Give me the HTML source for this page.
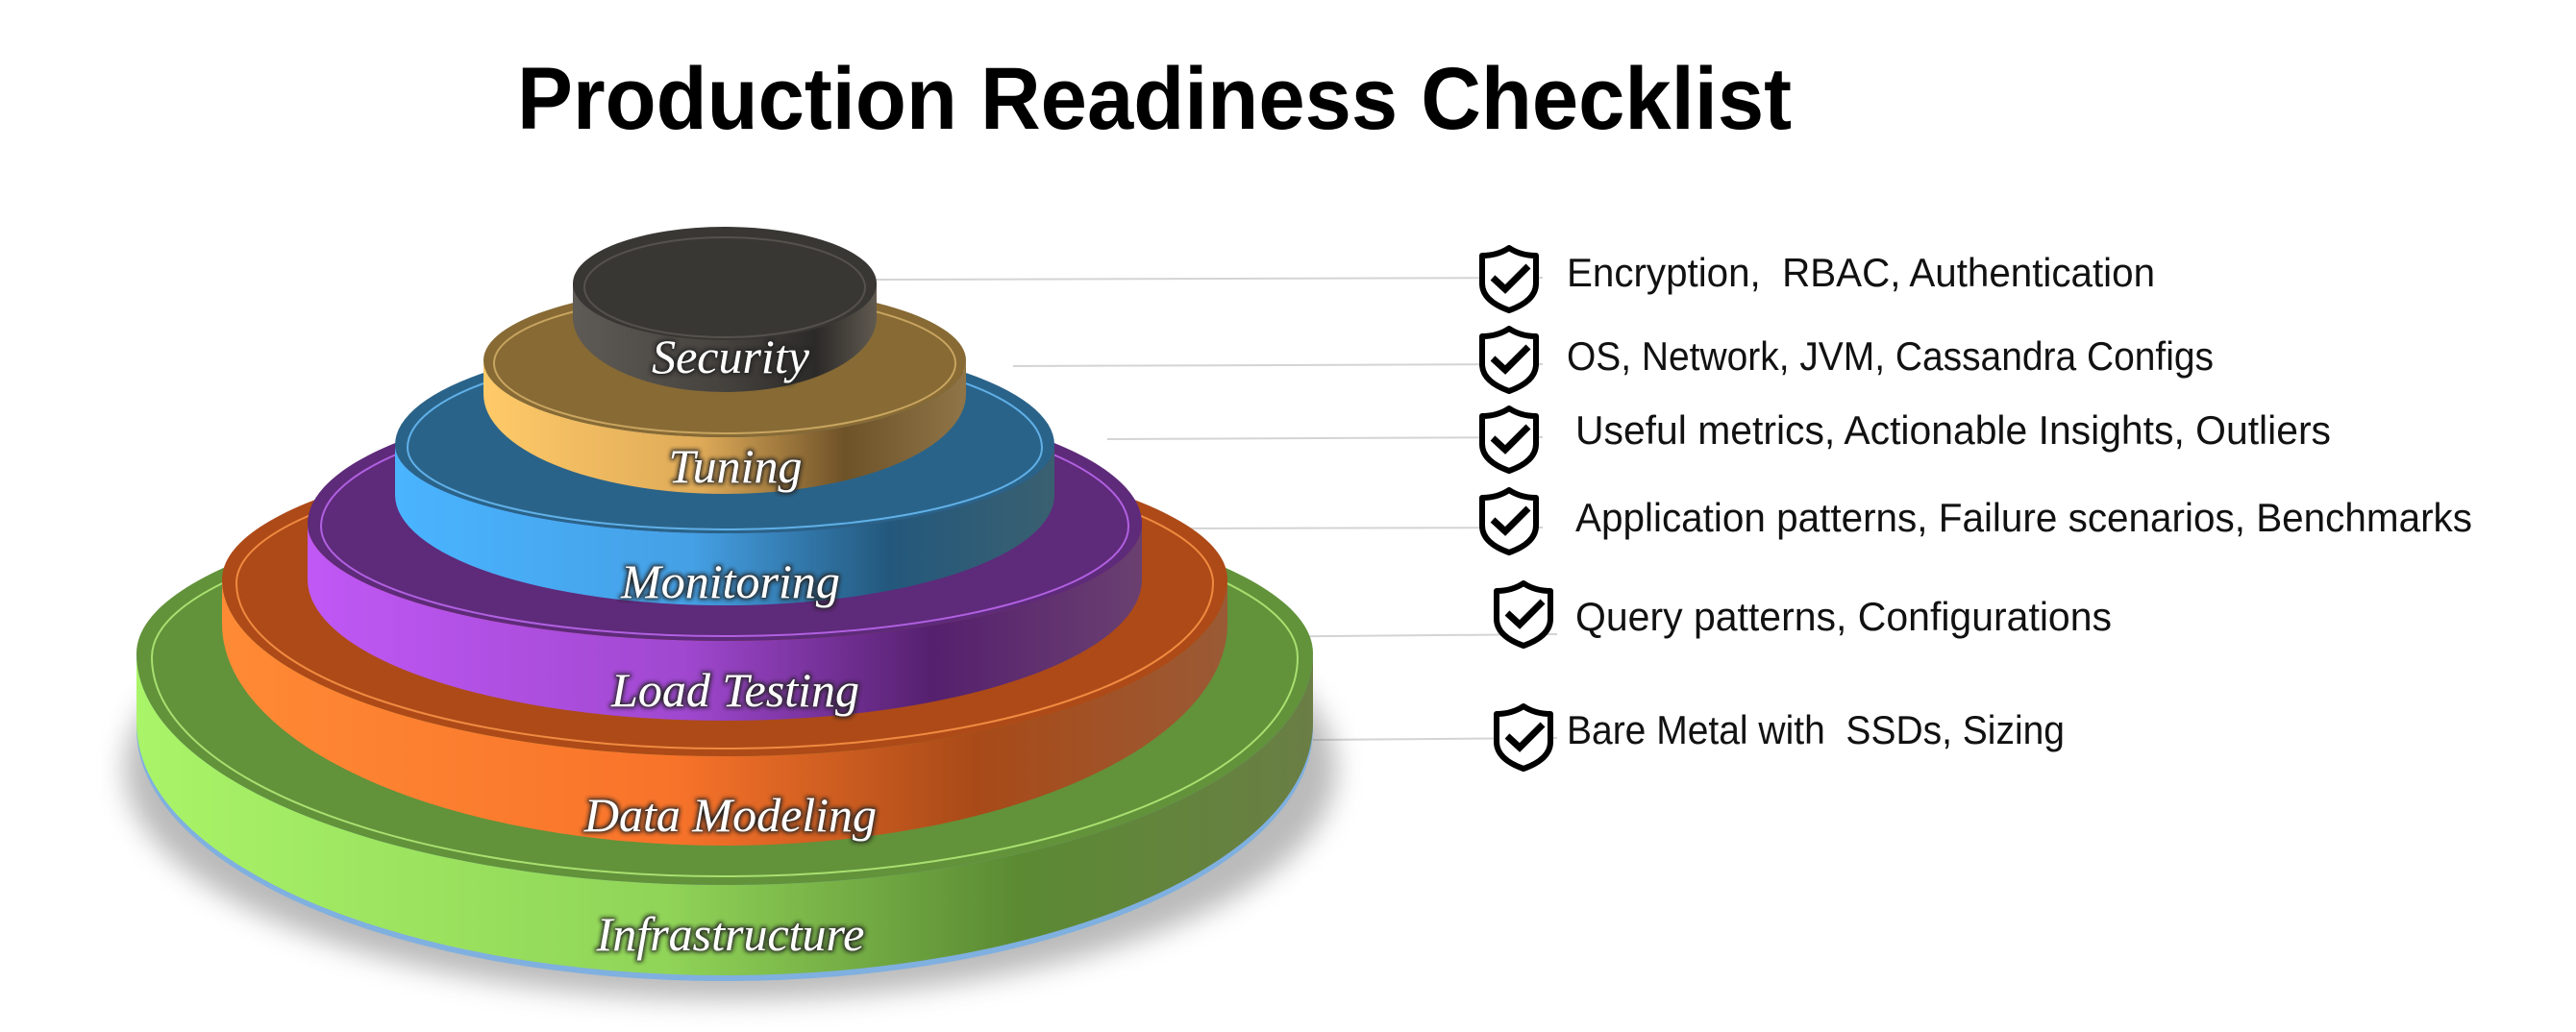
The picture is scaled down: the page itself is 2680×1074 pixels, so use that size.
<!DOCTYPE html>
<html><head><meta charset="utf-8"><style>
html,body{margin:0;padding:0;background:#fff;width:2680px;height:1074px;overflow:hidden}
svg{display:block}
.lbl{font-family:"Liberation Serif","DejaVu Serif",serif;font-style:italic;font-size:50px;fill:#fff;text-anchor:middle}
.it{font-family:"Liberation Sans",sans-serif;font-size:42px;fill:#111}
</style></head><body>
<svg width="2680" height="1074" viewBox="0 0 2680 1074" xmlns="http://www.w3.org/2000/svg">
<defs>
<linearGradient id="gInf" x1="0" x2="1"><stop offset="0" stop-color="#a9f468"/><stop offset="0.45" stop-color="#90d458"/><stop offset="0.75" stop-color="#5b8a33"/><stop offset="1" stop-color="#6a7e45"/></linearGradient>
<linearGradient id="gDM" x1="0" x2="1"><stop offset="0" stop-color="#ff8a35"/><stop offset="0.45" stop-color="#f8732a"/><stop offset="0.75" stop-color="#a84a18"/><stop offset="1" stop-color="#9a5a35"/></linearGradient>
<linearGradient id="gLT" x1="0" x2="1"><stop offset="0" stop-color="#c058f5"/><stop offset="0.45" stop-color="#a048d0"/><stop offset="0.75" stop-color="#55206e"/><stop offset="1" stop-color="#6a4070"/></linearGradient>
<linearGradient id="gMon" x1="0" x2="1"><stop offset="0" stop-color="#4ab4ff"/><stop offset="0.45" stop-color="#45a0e5"/><stop offset="0.75" stop-color="#23587c"/><stop offset="1" stop-color="#3a6070"/></linearGradient>
<linearGradient id="gTun" x1="0" x2="1"><stop offset="0" stop-color="#ffca68"/><stop offset="0.45" stop-color="#deaa58"/><stop offset="0.75" stop-color="#6e5228"/><stop offset="1" stop-color="#8f7548"/></linearGradient>
<linearGradient id="gSec" x1="0" x2="1"><stop offset="0" stop-color="#5e5a55"/><stop offset="0.5" stop-color="#45423e"/><stop offset="0.8" stop-color="#2c2a28"/><stop offset="1" stop-color="#605a50"/></linearGradient>
<filter id="blur" x="-20%" y="-20%" width="140%" height="140%"><feGaussianBlur stdDeviation="14"/></filter>
<filter id="glow" x="-20%" y="-40%" width="140%" height="180%"><feMorphology operator="dilate" radius="1.5" in="SourceAlpha" result="d"/><feFlood flood-color="#222"/><feComposite in2="d" operator="in" result="s"/><feGaussianBlur in="s" stdDeviation="2" result="b"/><feMerge><feMergeNode in="b"/><feMergeNode in="SourceGraphic"/></feMerge></filter>
</defs>

<text x="538" y="134" textLength="1326" lengthAdjust="spacingAndGlyphs" font-family="Liberation Sans, sans-serif" font-weight="bold" font-size="92" fill="#000">Production Readiness Checklist</text>

<g stroke="#d4d4d4" stroke-width="2">
<line x1="911" y1="291" x2="1605" y2="289"/>
<line x1="1054" y1="381" x2="1605" y2="379"/>
<line x1="1152" y1="457" x2="1605" y2="455"/>
<line x1="1205" y1="550" x2="1605" y2="549"/>
<line x1="1268" y1="663" x2="1620" y2="660"/>
<line x1="1366" y1="770" x2="1620" y2="768"/>
</g>

<ellipse cx="760" cy="800" rx="630" ry="240" fill="#777" opacity="0.5" filter="url(#blur)"/>

<!-- Infrastructure: L=142 R=1366 y=680 back170 front241 yb=752 bot263 -->
<path d="M142,680 L142,758 A612,263 0 0 0 1366,758 L1366,680 Z" fill="#7fb0e0"/>
<path d="M142,680 L142,752 A612,263 0 0 0 1366,752 L1366,680 A612,241 0 0 1 142,680 Z" fill="url(#gInf)"/>
<path d="M142,680 A612,170 0 0 1 1366,680 A612,241 0 0 1 142,680 Z" fill="#62923a"/>
<path d="M158,684 A596,160 0 0 1 1350,684 A596,228 0 0 1 158,684 Z" fill="none" stroke="#a8e070" stroke-width="2"/>
<!-- Data Modeling -->
<path d="M231,603 L231,649 A523,231 0 0 0 1277,649 L1277,603 A523,184 0 0 1 231,603 Z" fill="url(#gDM)"/>
<path d="M231,603 A523,143 0 0 1 1277,603 A523,184 0 0 1 231,603 Z" fill="#ad4a18"/>
<path d="M246,607 A508,134 0 0 1 1262,607 A508,172 0 0 1 246,607 Z" fill="none" stroke="#f08a40" stroke-width="2"/>
<!-- Load Testing -->
<path d="M320,545 L320,603 A434,147 0 0 0 1188,603 L1188,545 A434,122 0 0 1 320,545 Z" fill="url(#gLT)"/>
<path d="M320,545 A434,137 0 0 1 1188,545 A434,122 0 0 1 320,545 Z" fill="#5e2a7a"/>
<path d="M334,548 A420,129 0 0 1 1174,548 A420,114 0 0 1 334,548 Z" fill="none" stroke="#b060e0" stroke-width="2"/>
<!-- Monitoring -->
<path d="M411,463 L411,515 A343,115 0 0 0 1097,515 L1097,463 A343,92 0 0 1 411,463 Z" fill="url(#gMon)"/>
<path d="M411,463 A343,110 0 0 1 1097,463 A343,92 0 0 1 411,463 Z" fill="#2a6389"/>
<path d="M424,466 A330,103 0 0 1 1084,466 A330,85 0 0 1 424,466 Z" fill="none" stroke="#60b0e8" stroke-width="2"/>
<!-- Tuning -->
<path d="M503,375 L503,410 A251,104 0 0 0 1005,410 L1005,375 A251,80 0 0 1 503,375 Z" fill="url(#gTun)"/>
<path d="M503,375 A251,77 0 0 1 1005,375 A251,80 0 0 1 503,375 Z" fill="#876a34"/>
<path d="M514,378 A240,71 0 0 1 994,378 A240,73 0 0 1 514,378 Z" fill="none" stroke="#c8a560" stroke-width="2"/>
<!-- Security -->
<path d="M596,295 L596,330 A158,78 0 0 0 912,330 L912,295 Z" fill="url(#gSec)"/>
<ellipse cx="754" cy="295" rx="158" ry="59" fill="#393734"/>
<ellipse cx="754" cy="299" rx="146" ry="52" fill="none" stroke="#55524d" stroke-width="2"/>

<g class="lbl" filter="url(#glow)">
<text x="760" y="388">Security</text>
<text x="765" y="502">Tuning</text>
<text x="760" y="622">Monitoring</text>
<text x="765" y="735">Load Testing</text>
<text x="760" y="865">Data Modeling</text>
<text x="760" y="989">Infrastructure</text>
</g>

<defs>
<g id="sh">
<path d="M32,3 Q20,11 4,11 L4,40 Q4,58 32,68 Q60,58 60,40 L60,11 Q44,11 32,3 Z" fill="#fff" stroke="#000" stroke-width="6" stroke-linejoin="round"/>
<path d="M15,34 L28,46 L52,22" fill="none" stroke="#000" stroke-width="7"/>
</g>
</defs>
<use href="#sh" x="1538" y="255"/>
<use href="#sh" x="1538" y="339"/>
<use href="#sh" x="1538" y="422"/>
<use href="#sh" x="1538" y="507"/>
<use href="#sh" x="1553" y="604"/>
<use href="#sh" x="1553" y="732"/>

<text class="it" x="1630" y="298" textLength="612" lengthAdjust="spacingAndGlyphs" xml:space="preserve">Encryption,  RBAC, Authentication</text>
<text class="it" x="1630" y="385" textLength="673" lengthAdjust="spacingAndGlyphs">OS, Network, JVM, Cassandra Configs</text>
<text class="it" x="1639" y="462" textLength="786" lengthAdjust="spacingAndGlyphs">Useful metrics, Actionable Insights, Outliers</text>
<text class="it" x="1639" y="553" textLength="933" lengthAdjust="spacingAndGlyphs">Application patterns, Failure scenarios, Benchmarks</text>
<text class="it" x="1639" y="656" textLength="558" lengthAdjust="spacingAndGlyphs">Query patterns, Configurations</text>
<text class="it" x="1630" y="774" textLength="518" lengthAdjust="spacingAndGlyphs" xml:space="preserve">Bare Metal with  SSDs, Sizing</text>
</svg>
</body></html>
